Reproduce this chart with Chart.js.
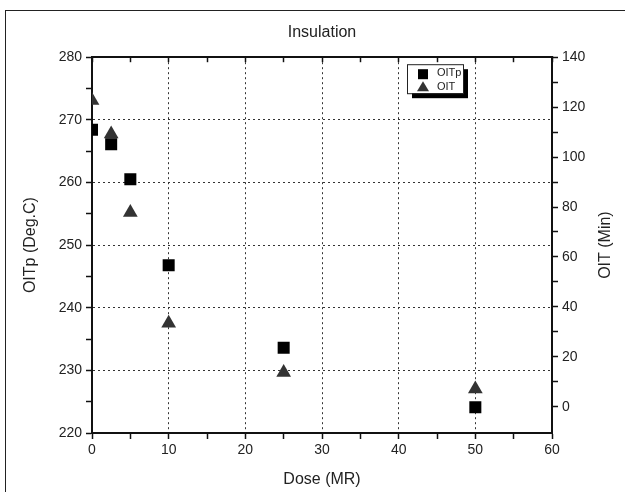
<!DOCTYPE html>
<html>
<head>
<meta charset="utf-8">
<script src="https://cdn.jsdelivr.net/npm/chart.js@4/dist/chart.umd.min.js"></script>
<style>
  html,body{margin:0;padding:0;background:#fff;overflow:hidden;}
  #wrap{position:absolute;left:0;top:0;width:625px;height:492px;}
  #frame{position:absolute;left:5px;top:10px;width:700px;height:600px;border:1px solid #222;pointer-events:none;}
</style>
</head>
<body>
<div id="wrap"><canvas id="chart" width="625" height="492"></canvas></div>
<div id="frame"></div>
<script>
// data
var doseMR=[0, 2.5, 5, 10, 25, 50];
var oitpDeg=[268.4, 266.1, 260.5, 246.8, 233.6, 224.1];
var oitMin=[122.7, 109.2, 77.8, 33.5, 13.7, 7.1];
var seriesNames=["OITp", "OIT"];
var chartTitle="Insulation";
var xTitle="Dose (MR)";
var yLeftTitle="OITp (Deg.C)";
var yRightTitle="OIT (Min)";

var FONT="'Liberation Sans', Arial, sans-serif";
var TXT="#222";

function pts(xs, ys){
  var out=[];
  for(var i=0;i<xs.length;i++){ out.push({x:xs[i], y:ys[i]}); }
  return out;
}

// little boxed legend with a drop shadow, like the original
// + the right axis title, which reads bottom-to-top in the original
var boxLegend={
  id:"boxLegend",
  afterDraw:function(chart){
    var ctx=chart.ctx;
    var a=chart.chartArea;
    var x=a.left+315, y=a.top+7, w=56, h=29;
    ctx.save();
    ctx.fillStyle="#000";
    ctx.fillRect(x+5, y+5, w, h);
    ctx.fillStyle="#fff";
    ctx.fillRect(x, y, w, h);
    ctx.strokeStyle="#222";
    ctx.lineWidth=1;
    ctx.strokeRect(x+0.5, y+0.5, w, h);
    // square
    ctx.fillStyle="#000";
    ctx.fillRect(x+11, y+5, 10, 10);
    // triangle
    ctx.fillStyle="#333";
    ctx.beginPath();
    ctx.moveTo(x+16, y+17);
    ctx.lineTo(x+22, y+27);
    ctx.lineTo(x+10, y+27);
    ctx.closePath();
    ctx.fill();
    ctx.fillStyle=TXT;
    ctx.font="11px "+FONT;
    ctx.textBaseline="middle";
    ctx.fillText(chart.data.datasets[0].label, x+30, y+9);
    ctx.fillText(chart.data.datasets[1].label, x+30, y+23);
    ctx.restore();

    var r=chart.scales.y1;
    ctx.save();
    ctx.translate(r.right-19, (a.top+a.bottom)/2);
    ctx.rotate(-Math.PI/2);
    ctx.fillStyle=TXT;
    ctx.font="16px "+FONT;
    ctx.textAlign="center";
    ctx.textBaseline="middle";
    ctx.fillText(yRightTitle, 0, 0);
    ctx.restore();
  }
};

function majorGrid(lo, hi, step){
  return function(c){
    if(!c.tick) return "transparent";
    var v=c.tick.value;
    if(v<=lo || v>=hi) return "transparent";
    return (Math.abs(v % step)<1e-9) ? "#333" : "transparent";
  };
}

new Chart(document.getElementById("chart"), {
  type:"scatter",
  data:{
    datasets:[{
      label:seriesNames[0],
      data:pts(doseMR, oitpDeg),
      yAxisID:"y",
      pointStyle:"rect",
      pointRadius:8.5,
      pointHoverRadius:8.5,
      backgroundColor:"#000",
      borderColor:"#000",
      borderWidth:0,
      clip:0
    },{
      label:seriesNames[1],
      data:pts(doseMR, oitMin),
      yAxisID:"y1",
      pointStyle:"triangle",
      pointRadius:8.5,
      pointHoverRadius:8.5,
      backgroundColor:"#333",
      borderColor:"#333",
      borderWidth:0,
      clip:0
    }]
  },
  options:{
    responsive:false,
    animation:false,
    layout:{padding:0},
    plugins:{
      legend:{display:false},
      tooltip:{enabled:false},
      title:{
        display:true,
        fullSize:false,
        text:chartTitle,
        color:TXT,
        font:{family:FONT, size:16, weight:"normal"},
        padding:{top:23, bottom:4}
      }
    },
    scales:{
      x:{
        type:"linear", position:"bottom", min:0, max:60,
        ticks:{stepSize:5, autoSkip:false, maxRotation:0, color:TXT, padding:3,
          font:{family:FONT, size:14},
          callback:function(v){ return v%10===0 ? v : ""; }},
        grid:{color:majorGrid(0,60,10), tickColor:"#111", tickLength:6, tickWidth:1.5, lineWidth:1, tickBorderDash:[]},
        border:{color:"#111", width:2, dash:[2,3]},
        title:{display:true, text:xTitle, color:TXT, font:{family:FONT, size:16}, padding:{top:3, bottom:3}},
        afterFit:function(s){ s.height=59; }
      },
      x2:{
        type:"linear", position:"top", min:0, max:60,
        ticks:{stepSize:5, display:false},
        grid:{drawOnChartArea:false, tickColor:"#111", tickLength:-5, tickWidth:1.5, tickBorderDash:[]},
        border:{color:"#111", width:2},
        afterFit:function(s){ s.height=11; }
      },
      y:{
        type:"linear", position:"left", min:220, max:280,
        ticks:{stepSize:5, autoSkip:false, color:TXT, padding:4,
          font:{family:FONT, size:14},
          callback:function(v){ return v%10===0 ? v : ""; }},
        grid:{color:majorGrid(220,280,10), tickColor:"#111", tickLength:6, tickWidth:1.5, lineWidth:1, tickBorderDash:[]},
        border:{color:"#111", width:2, dash:[2,3]},
        title:{display:true, text:yLeftTitle, color:TXT, font:{family:FONT, size:16}, padding:{top:21, bottom:4}},
        afterFit:function(s){ s.width=92; }
      },
      y1:{
        type:"linear", position:"right", min:-10.5, max:140,
        ticks:{stepSize:10, autoSkip:false, color:TXT, padding:4,
          font:{family:FONT, size:14},
          callback:function(v){ return v%20===0 ? v : ""; }},
        grid:{drawOnChartArea:false, tickLength:6, tickWidth:1.5, tickBorderDash:[],
          tickColor:function(c){
            if(!c.tick) return "transparent";
            return (c.tick.value%10===0) ? "#111" : "transparent";
          }},
        border:{color:"#111", width:2},
        afterFit:function(s){ s.width=73; }
      }
    }
  },
  plugins:[boxLegend]
});
</script>
</body>
</html>
